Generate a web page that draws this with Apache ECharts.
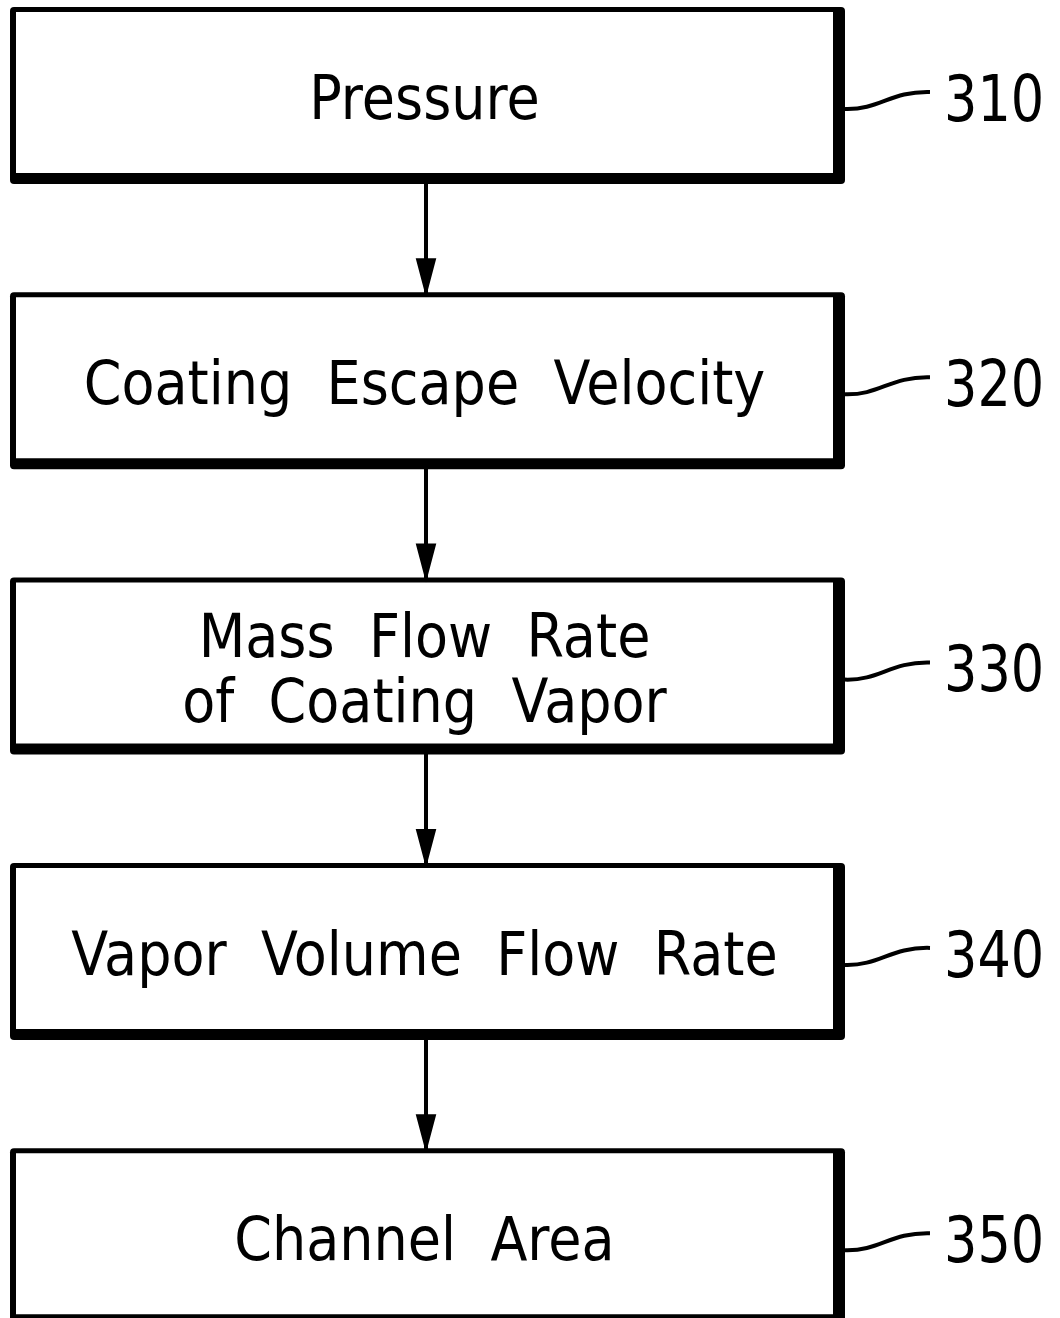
<!DOCTYPE html>
<html>
<head>
<meta charset="utf-8">
<script src="https://cdn.jsdelivr.net/npm/echarts@6/dist/echarts.min.js"></script>
<style>
  html, body { margin: 0; padding: 0; background: #fff; }
  #chart { width: 1060px; height: 1318px; }
</style>
</head>
<body>
<div id="chart"></div>
<script>
// flowchart content
const steps = [
  "Pressure",
  "Coating  Escape  Velocity",
  "Mass  Flow  Rate\nof  Coating  Vapor",
  "Vapor  Volume  Flow  Rate",
  "Channel  Area"
];
const refs = ["310", "320", "330", "340", "350"];
// arrows go from step i to step i+1
const links = [[0, 1], [1, 2], [2, 3], [3, 4]];

// layout (in page pixels, mapped through hidden value axes)
const BOX_LEFT = 10, BOX_RIGHT = 845, BOX_TOP0 = 7, ROW = 285.3, BOX_H = 177;
const ARROW_X = 426;
const LEAD_DY = 102, LEAD_LEN = 85, LEAD_RISE = 17;

function boxTop(i) { return BOX_TOP0 + i * ROW; }

const chart = echarts.init(document.getElementById("chart"));

chart.setOption({
  backgroundColor: "#fff",
  animation: false,
  grid: { left: 0, right: 0, top: 0, bottom: 0 },
  xAxis: { type: "value", min: 0, max: 1060, show: false },
  yAxis: { type: "value", min: 0, max: 1318, inverse: true, show: false },
  series: [
    {
      // boxes with their labels
      type: "custom",
      clip: false,
      data: steps.map((s, i) => [i]),
      renderItem: function (params, api) {
        const i = api.value(0);
        const p0 = api.coord([BOX_LEFT, boxTop(i)]);
        const p1 = api.coord([BOX_RIGHT, boxTop(i) + BOX_H]);
        const w = p1[0] - p0[0], h = p1[1] - p0[1];
        return {
          type: "group",
          children: [
            { type: "rect", shape: { x: p0[0], y: p0[1], width: w, height: h, r: 4 }, style: { fill: "#000" } },
            { type: "rect", shape: { x: p0[0] + 6, y: p0[1] + 5, width: w - 18, height: h - 16 }, style: { fill: "#fff" } },
            {
              type: "text",
              x: (p0[0] + p1[0]) / 2 - 3,
              y: p0[1] + h / 2 + 8,
              scaleX: 0.9,
              style: {
                text: steps[i],
                x: 0, y: 0,
                align: "center",
                verticalAlign: "middle",
                font: '60px "DejaVu Sans"',
                lineHeight: 65,
                fill: "#000"
              }
            }
          ]
        };
      }
    },
    {
      // arrows between boxes
      type: "custom",
      clip: false,
      data: links,
      renderItem: function (params, api) {
        const a = api.value(0), b = api.value(1);
        const s = api.coord([ARROW_X, boxTop(a) + BOX_H - 2]);
        const e = api.coord([ARROW_X, boxTop(b) + 1]);
        return {
          type: "group",
          children: [
            { type: "line", shape: { x1: s[0], y1: s[1], x2: e[0], y2: e[1] }, style: { stroke: "#000", lineWidth: 4 } },
            {
              type: "polygon",
              shape: { points: [[e[0] - 9, e[1] - 34], [e[0] + 9, e[1] - 34], [e[0], e[1]]] },
              style: { fill: "#000", stroke: "#000", lineWidth: 2 }
            }
          ]
        };
      }
    },
    {
      // reference numerals with leader lines
      type: "custom",
      clip: false,
      data: refs.map((r, i) => [i]),
      renderItem: function (params, api) {
        const i = api.value(0);
        const s = api.coord([BOX_RIGHT, boxTop(i) + LEAD_DY]);
        const e = [s[0] + LEAD_LEN, s[1] - LEAD_RISE];
        return {
          type: "group",
          children: [
            {
              type: "bezierCurve",
              shape: {
                x1: s[0], y1: s[1], x2: e[0], y2: e[1],
                cpx1: s[0] + 35, cpy1: s[1] + 1,
                cpx2: s[0] + 45, cpy2: e[1] - 1
              },
              style: { stroke: "#000", lineWidth: 4, fill: null }
            },
            {
              type: "text",
              x: e[0] + 14,
              y: e[1] + 12,
              scaleX: 0.82,
              style: {
                text: refs[i],
                x: 0, y: 0,
                align: "left",
                verticalAlign: "middle",
                font: '64px "DejaVu Sans"',
                fill: "#000"
              }
            }
          ]
        };
      }
    }
  ]
});
</script>
</body>
</html>
